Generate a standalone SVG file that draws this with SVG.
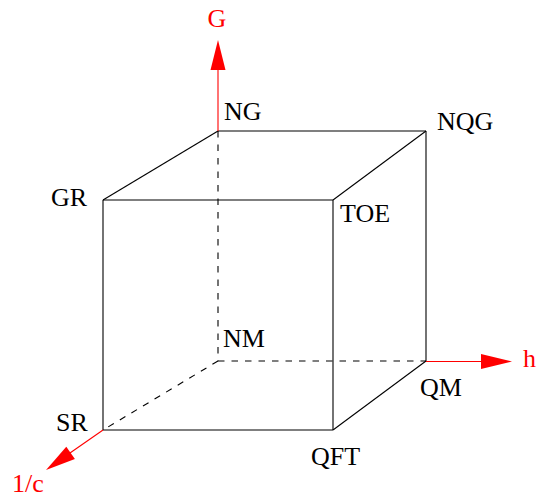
<svg xmlns="http://www.w3.org/2000/svg" width="540" height="499" viewBox="0 0 540 499">
<style>
.e{stroke:#000;stroke-width:1.1;fill:none}
.d{stroke:#000;stroke-width:1.1;fill:none;stroke-dasharray:6.5 7}
.ax{stroke:#ff0000;stroke-width:1.1;fill:none}
.ah{fill:#ff0000;stroke:none}
text{font-family:"Liberation Serif","Times New Roman",serif;font-size:26px;fill:#000}
.r{fill:#ff0000}
</style>
<rect width="540" height="499" fill="#fff"/>
<g id="connectors">
<line class="d" x1="218" y1="131" x2="218" y2="361"/>
<line class="d" x1="218" y1="361" x2="426" y2="361"/>
<line class="d" x1="218" y1="361" x2="103" y2="430"/>
<line class="e" x1="103" y1="200" x2="333" y2="200"/>
<line class="e" x1="103" y1="430" x2="333" y2="430"/>
<line class="e" x1="103" y1="200" x2="103" y2="430"/>
<line class="e" x1="333" y1="200" x2="333" y2="430"/>
<line class="e" x1="218" y1="131" x2="426" y2="131"/>
<line class="e" x1="426" y1="131" x2="426" y2="361"/>
<line class="e" x1="103" y1="200" x2="218" y2="131"/>
<line class="e" x1="333" y1="200" x2="426" y2="131"/>
<line class="e" x1="333" y1="430" x2="426" y2="361"/>
</g>
<g id="axis-G">
<line class="ax" x1="218" y1="131" x2="218" y2="70"/>
<polygon class="ah" points="218,40 210.5,70 225.5,70"/>
<text class="r" x="217" y="27" text-anchor="middle">G</text>
</g>
<g id="axis-h">
<line class="ax" x1="426" y1="361.5" x2="481" y2="361.5"/>
<polygon class="ah" points="512,361.5 481,354 481,369"/>
<text class="r" x="523" y="367">h</text>
</g>
<g id="axis-c">
<line class="ax" x1="103" y1="430" x2="70" y2="453"/>
<polygon class="ah" points="46,470 66.3,446.7 74.9,459"/>
<text class="r" x="12" y="492">1/c</text>
</g>
<g id="NG"><text x="224" y="120">NG</text></g>
<g id="NQG"><text x="437" y="130">NQG</text></g>
<g id="GR"><text x="51" y="206">GR</text></g>
<g id="TOE"><text x="340" y="222">TOE</text></g>
<g id="NM"><text x="223" y="347">NM</text></g>
<g id="QM"><text x="420" y="396">QM</text></g>
<g id="SR"><text x="56" y="431">SR</text></g>
<g id="QFT"><text x="311" y="465">QFT</text></g>
</svg>
